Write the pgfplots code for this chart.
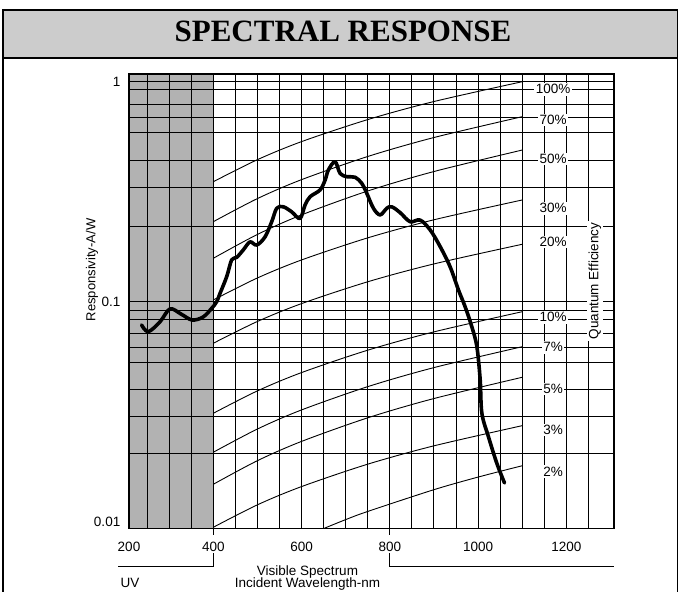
\documentclass[border=0pt]{standalone}
\usepackage{fontspec}
\setmainfont{Liberation Sans}
\newfontfamily\titlefont{Liberation Serif}
\usepackage{pgfplots}
\pgfplotsset{compat=1.18}
\definecolor{uvgray}{gray}{0.70}
\definecolor{titlegray}{gray}{0.80}
\newcommand{\lbl}{\fontsize{13.5}{15}\selectfont}

\begin{document}
\begin{tikzpicture}[x=1pt,y=1pt]
\useasboundingbox (0,0) rectangle (681,592);
\clip (0,0) rectangle (681,592);
% outer frame and title bar
\draw[line width=1.3pt] (3,-5) -- (3,582) -- (677.5,582) -- (677.5,-5);
\filldraw[fill=titlegray, draw=black, line width=1.2pt] (3,534) rectangle (677.5,582);
\draw[line width=2.6pt] (3,534) -- (677.5,534);
\node[anchor=base, inner sep=0pt, font=\titlefont\bfseries\fontsize{31}{35}\selectfont] at (343,550.3) {SPECTRAL RESPONSE};

\begin{axis}[
  at={(129pt,63.7pt)}, anchor=south west,
  scale only axis, width=485pt, height=454.3pt,
  ymode=log, xmin=209, xmax=1308, ymin=0.00933, ymax=1.084,
  axis on top,
  xtick={209,400,600,800,1000,1200}, xticklabels={200,400,600,800,1000,1200},
  minor xtick={250,300,350,400,450,500,550,600,650,700,750,800,850,900,950,1000,1050,1100,1150,1200,1250},
  ytick={0.01,0.1,1}, yticklabels={0.01,0.1,1},
  minor ytick={0.0205,0.030,0.040,0.053,0.062,0.072,0.083,0.091,0.1,0.22,0.33,0.44,0.59,0.69,0.79,0.92,1},
  xmajorgrids=false, xminorgrids=true, ymajorgrids=false, yminorgrids=true,
  minor grid style={black,line width=0.95pt},
  major tick length=0pt, minor tick length=0pt,
  axis line style={black,line width=1.4pt},
  tick label style={font=\lbl},
  xticklabel style={anchor=base, yshift=-22.7pt},
  yticklabel style={xshift=-5.2pt},
  clip=true,
]
\fill[uvgray] (axis cs:209,0.00933) rectangle (axis cs:400,1.084);

% quantum efficiency reference lines
\addplot[black, line width=0.9pt, smooth] coordinates {(400,0.3510) (500,0.4422) (600,0.5342) (750,0.6728) (900,0.8127) (1100,1.0)};
\addplot[black, line width=0.9pt, smooth] coordinates {(400,0.2310) (500,0.2943) (600,0.3588) (750,0.4572) (900,0.5576) (1100,0.6935)};
\addplot[black, line width=0.9pt, smooth] coordinates {(400,0.1575) (500,0.2022) (600,0.2481) (750,0.3186) (900,0.3907) (1100,0.4891)};
\addplot[black, line width=0.9pt, smooth] coordinates {(400,0.1018) (500,0.1282) (600,0.1548) (750,0.1951) (900,0.2357) (1100,0.2900)};
\addplot[black, line width=0.9pt, smooth] coordinates {(400,0.06472) (500,0.08131) (600,0.09802) (750,0.1232) (900,0.1485) (1100,0.1824)};
\addplot[black, line width=0.9pt, smooth] coordinates {(400,0.03110) (500,0.03932) (600,0.04762) (750,0.06020) (900,0.07293) (1100,0.09006)};
\addplot[black, line width=0.9pt, smooth] coordinates {(400,0.02068) (500,0.02638) (600,0.03221) (750,0.04110) (900,0.05017) (1100,0.06244)};
\addplot[black, line width=0.9pt, smooth] coordinates {(400,0.01479) (500,0.01894) (600,0.02317) (750,0.02966) (900,0.03630) (1100,0.04533)};
\addplot[black, line width=0.9pt, smooth] coordinates {(400,0.00943) (500,0.01193) (600,0.01444) (750,0.01826) (900,0.02212) (1100,0.02732)};
\addplot[black, line width=0.9pt, smooth] coordinates {(640,0.00913) (700,0.01022) (750,0.01113) (900,0.01398) (1000,0.01595) (1100,0.01796)};

% responsivity curve
\addplot[black, line width=3.6pt, smooth, tension=0.55, line cap=round, line join=round] coordinates {
(237.6,0.0784) (252.6,0.0731) (279,0.0809) (301.8,0.0927) (326.8,0.0879) (351.7,0.0826)
(376.6,0.0851) (396.4,0.0933) (407.7,0.1) (415.2,0.109) (430.4,0.130) (441.7,0.155)
(453.1,0.159) (468,0.172) (483.2,0.187) (498.4,0.181) (517.2,0.197) (532.4,0.231)
(543.8,0.266) (558.7,0.270) (577.8,0.256) (596.6,0.239) (607.9,0.275) (619.3,0.300)
(641.9,0.322) (653.3,0.357) (660.8,0.397) (676,0.433) (687.3,0.383) (702.5,0.370)
(721.3,0.368) (736.5,0.345) (747.8,0.311) (762.8,0.266) (778,0.248) (793.2,0.266)
(804.5,0.270) (823.4,0.254) (846,0.231) (868.7,0.235) (891.4,0.212) (914.1,0.178)
(936.7,0.144) (955.6,0.113) (970.7,0.0948) (985.9,0.0769) (997.3,0.0624) (1004.8,0.0441)
(1008.6,0.0311) (1023.6,0.0243) (1042.6,0.0184) (1059.9,0.0150)};

\coordinate (q100) at (axis cs:1170,0.924);
\coordinate (q70) at (axis cs:1170,0.670);
\coordinate (q50) at (axis cs:1170,0.445);
\coordinate (q30) at (axis cs:1170,0.266);
\coordinate (q20) at (axis cs:1170,0.187);
\coordinate (q10) at (axis cs:1170,0.0849);
\coordinate (q7) at (axis cs:1170,0.0621);
\coordinate (q5) at (axis cs:1170,0.0401);
\coordinate (q3) at (axis cs:1170,0.0261);
\coordinate (q2) at (axis cs:1170,0.01687);
\end{axis}

% QE labels
\foreach \n/\t in {q100/100, q70/70, q50/50, q30/30, q20/20, q10/10, q7/7, q5/5, q3/3, q2/2}
  \node[fill=white, inner sep=1.6pt, font=\lbl] at (\n) {\t\%};
\node[fill=white, rotate=90, inner sep=2pt, font=\lbl] at (595,311) {Quantum Efficiency};
\node[rotate=90, font=\fontsize{13}{15}\selectfont, inner sep=0pt] at (92,322) {Responsivity-A/W};

% spectrum brackets
\draw[line width=1pt] (213.3,63.7) -- (213.3,57);
\draw[line width=1pt] (118,25.3) -- (213.3,25.3) -- (213.3,39);
\draw[line width=1pt] (389.8,63.7) -- (389.8,57);
\draw[line width=1pt] (389.8,39) -- (389.8,25.3) -- (614,25.3);
\node[anchor=base, font=\lbl, inner sep=0pt] at (130,4.3) {UV};
\node[anchor=base, font=\lbl, inner sep=0pt] at (307.5,16.8) {Visible Spectrum};
\node[anchor=base, font=\lbl, inner sep=0pt] at (307.5,4.0) {Incident Wavelength-nm};
\end{tikzpicture}
\end{document}
